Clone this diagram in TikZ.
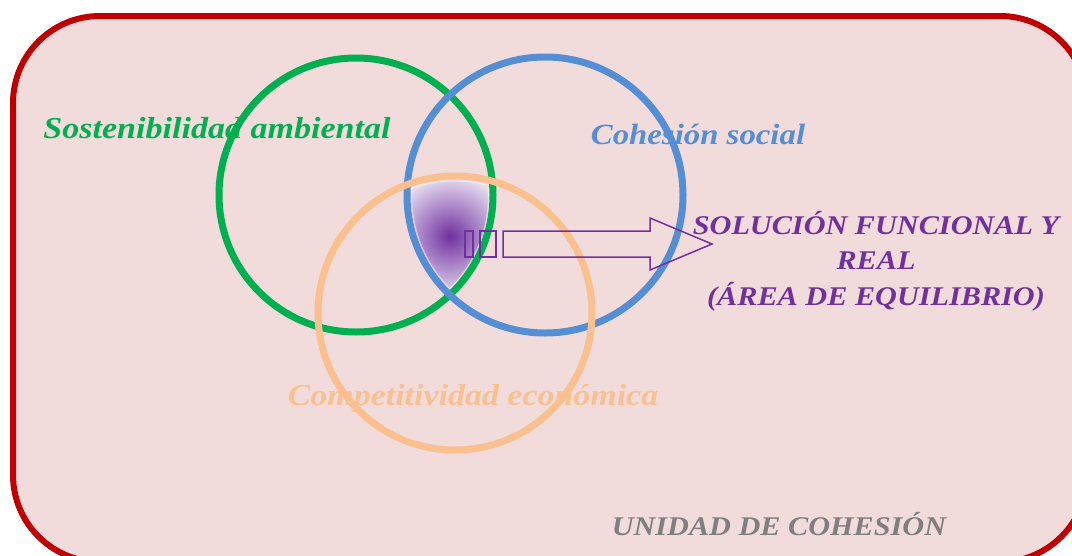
\documentclass[tikz,border=0pt]{standalone}
\usepackage{fontspec}
\setmainfont{Liberation Serif}
\newfontfamily\widefont[FakeStretch=1.12]{Liberation Serif}
\definecolor{bgpink}{HTML}{F2DCDB}
\definecolor{frame}{HTML}{C00000}
\definecolor{cgreen}{HTML}{00B050}
\definecolor{cblue}{HTML}{558ED5}
\definecolor{corange}{HTML}{FAC090}
\definecolor{cpurple}{HTML}{7030A0}
\definecolor{clav}{HTML}{E6DDF0}
\definecolor{cgrey}{HTML}{7F7F7F}
\tikzset{
  ring/.style={line width=7pt},
  lbl/.style={inner sep=0pt},
  pbox/.style={draw=cpurple, line width=1.5pt}
}
\newcommand{\lblfont}[1]{\widefont\bfseries\itshape\fontsize{#1}{35.5}\selectfont}
\begin{document}
\begin{tikzpicture}[x=1pt,y=-1pt]
\useasboundingbox (0,0) rectangle (1072,555);
\begin{scope}
\clip (0,0) rectangle (1072,555);
\draw[frame, line width=6pt, fill=bgpink, rounded corners=87pt] (13,16) rectangle (1087,562);
\end{scope}
% labels and circles
\node[lbl, cgreen, font=\lblfont{30.4}] (sa) at (217,128) {Sostenibilidad ambiental};
\node[lbl, cblue, font=\lblfont{29.3}] (cs) at (698,134) {Cohesión social};
\draw[ring, cgreen] (356,195) circle (137);
\draw[ring, cblue] (545,195) circle (138);
\draw[ring, corange] (455,313) circle (137);
\node[lbl, corange, font=\lblfont{30.3}] (ce) at (473,398) {Competitividad económica};
% central triangle
\begin{scope}
\clip (356,195) circle (133);
\clip (545,195) circle (134);
\clip (455,313) circle (132.5);
\shade[inner color=cpurple, outer color=clav] (450,236) circle (60);
\draw[white, opacity=0.5, line width=2pt] (356,195) circle (133);
\draw[white, opacity=0.5, line width=2pt] (545,195) circle (134);
\draw[white, opacity=0.5, line width=2pt] (455,313) circle (132.5);
\end{scope}
% boxes and arrow
\node[pbox, minimum width=8pt, minimum height=26pt, inner sep=0pt] (b1) at (469,244) {};
\node[pbox, minimum width=16pt, minimum height=26pt, inner sep=0pt] (b2) at (488,244) {};
\coordinate (at) at (503,244);
\draw[pbox, line join=miter] ([yshift=13pt]at) -- ++(147,0) -- (650,218) -- (712,244)
  -- (650,270) -- (650,257) -- ([yshift=-13pt]at) -- cycle;
\node[lbl, cpurple, align=center, font=\lblfont{27}] (sol) at (876,261)
  {SOLUCIÓN FUNCIONAL Y\\REAL\\(ÁREA DE EQUILIBRIO)};
\node[lbl, cgrey, font=\lblfont{27}] (uc) at (779,524) {UNIDAD DE COHESIÓN};
\end{tikzpicture}
\end{document}
